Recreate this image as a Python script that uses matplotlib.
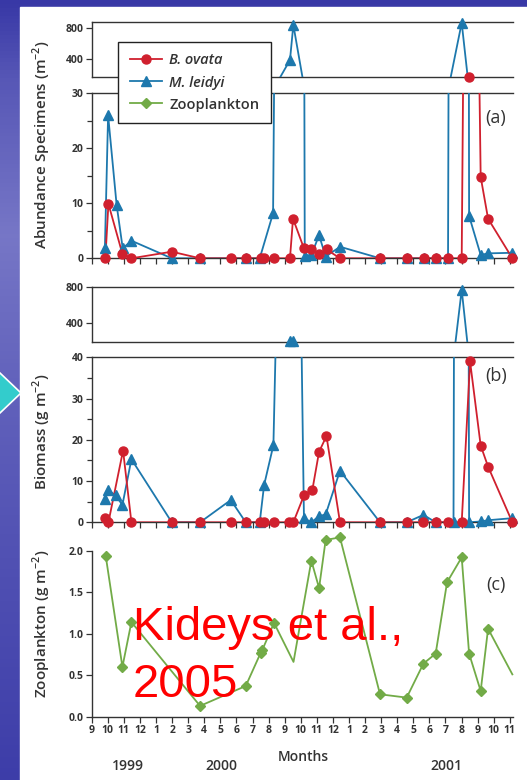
import numpy as np
import matplotlib
matplotlib.use('Agg')
import matplotlib.pyplot as plt
from matplotlib.patches import Rectangle, Polygon
from matplotlib.lines import Line2D

W, H = 527, 780

# x = months counted from Sep 1999 (0) to Nov 2001 (26)
months = ['9', '10', '11', '12', '1', '2', '3', '4', '5', '6', '7', '8',
          '9', '10', '11', '12', '1', '2', '3', '4', '5', '6', '7', '8', '9', '10', '11']
years = ['1999', '2000', '2001']

# (a) abundance, specimens m-2
ovata_abu_x = [0.85, 1.04, 1.91, 2.47, 4.98, 6.74, 8.69, 9.58, 10.51, 10.72, 11.34, 12.33, 12.52, 13.2,
               13.66, 14.14, 14.61, 15.44, 17.93, 19.59, 20.67, 21.39, 22.16, 23.01, 23.47, 24.19, 24.65, 26.16]
ovata_abu_y = [0, 9.9, 0.8, 0, 1.2, 0, 0, 0, 0, 0, 0, 0, 7.2, 1.8,
               1.6, 0.8, 1.6, 0, 0, 0, 0, 0, 0, 0, 168, 14.8, 7.2, 0]
leidyi_abu_x = [0.82, 1.02, 1.55, 1.93, 2.47, 4.98, 6.74, 9.58, 10.45, 11.28, 12.33, 12.54, 13.25, 13.66,
                14.14, 14.55, 15.44, 17.93, 19.59, 20.67, 21.39, 22.16, 23.01, 23.47, 24.19, 24.65, 26.16]
leidyi_abu_y = [1.8, 26, 9.7, 1.8, 3.2, 0, 0, 0, 0, 8.2, 390, 843, 0.5, 0.6,
                4.2, 0.3, 2.1, 0, 0, 0, 0, 0, 870, 7.7, 0.6, 0.9, 1.0]

# (b) biomass, g m-2
ovata_bio_x = [0.82, 1.04, 1.95, 2.47, 4.98, 6.74, 8.69, 9.58, 10.47, 10.72, 11.34, 12.27, 12.54, 13.2,
               13.72, 14.14, 14.6, 15.44, 17.93, 19.59, 20.63, 21.39, 22.16, 23.01, 23.53, 24.19, 24.65, 26.16]
ovata_bio_y = [1.1, 0, 17.4, 0, 0, 0, 0, 0, 0, 0, 0, 0, 0, 6.5,
               7.8, 17.1, 20.9, 0, 0, 0, 0, 0, 0, 0, 39, 18.6, 13.5, 0]
leidyi_bio_x = [0.82, 1.02, 1.49, 1.91, 2.47, 4.98, 6.74, 8.65, 9.58, 10.45, 10.72, 11.3, 12.33, 12.5,
                13.2, 13.66, 14.14, 14.55, 15.44, 17.93, 19.59, 20.63, 21.39, 22.5, 23.01, 23.47, 24.19, 24.65, 26.16]
leidyi_bio_y = [5.6, 7.8, 6.5, 4.2, 15.3, 0, 0, 5.4, 0, 0, 9.0, 18.7, 195, 195,
                1.0, 0, 1.5, 1.9, 12.5, 0, 0, 1.8, 0, 0, 765, 0, 0.2, 0.5, 1.0]

# (c) zooplankton, g m-2
zoo_x = [0.87, 1.91, 2.47, 6.74, 9.58, 10.51, 10.6, 11.34, 12.55, 13.66, 14.14, 14.55,
         15.44, 17.93, 19.59, 20.63, 21.39, 22.1, 23.01, 23.47, 24.19, 24.65, 26.16]
zoo_y = [1.94, 0.60, 1.14, 0.13, 0.37, 0.77, 0.80, 1.13, 0.66, 1.88, 1.55, 2.13,
         2.16, 0.27, 0.23, 0.64, 0.76, 1.62, 1.92, 0.76, 0.31, 1.06, 0.51]

RED = '#d0202e'
BLUE = '#1d78ad'
GREEN = '#72ab47'
DARK = '#333333'

plt.rcParams['font.family'] = ['Open Sans', 'DejaVu Sans']

fig = plt.figure(figsize=(W / 100, H / 100), dpi=100)

# slide background
bg = fig.add_axes([0, 0, 1, 1], zorder=-10)
bg.axis('off')
grad = np.interp(np.linspace(0, 1, 200), [0, 0.1, 0.3, 0.5, 0.7, 1.0], [0.0, 0.3, 0.6, 0.4, 0.25, 0.05])
c1 = np.array([0x38, 0x38, 0xa6]) / 255
c2 = np.array([0xa0, 0xa0, 0xdc]) / 255
img = (c1[None, :] + grad[:, None] * (c2 - c1)[None, :])[:, None, :]
bg.imshow(img, extent=(0, 1, 0, 1), aspect='auto')
bg.add_patch(Rectangle((20 / W, 0), 1 - 20 / W, 1 - 7 / H, color='white'))
bg.add_patch(Polygon([(-0.01, 1 - 368 / H), (21 / W, 1 - 393 / H), (-0.01, 1 - 418 / H)],
                     closed=True, facecolor='#33cccc', edgecolor='white', lw=1.2))
bg.set_xlim(0, 1)
bg.set_ylim(0, 1)


def rect(y0, y1, x0=91.7, x1=513):
    return [x0 / W, 1 - y1 / H, (x1 - x0) / W, (y1 - y0) / H]


def setup(ax, lo, hi, ticks, minor=None, top=True, xticks=True):
    ax.set_xlim(0, 26.2)
    ax.set_ylim(lo, hi)
    ax.patch.set_alpha(0)
    ax.spines['right'].set_visible(False)
    ax.spines['top'].set_visible(top)
    for s in ax.spines.values():
        s.set_color(DARK)
        s.set_linewidth(1.0)
    ax.set_yticks(ticks)
    if minor is not None:
        ax.set_yticks(minor, minor=True)
    if xticks:
        ax.set_xticks(range(27))
    else:
        ax.set_xticks([])
    ax.tick_params(which='both', direction='out', color=DARK, width=0.9, length=4,
                   labelsize=7.5, labelcolor=DARK, pad=2)
    ax.tick_params(which='minor', length=3.5)
    for t in ax.get_yticklabels():
        t.set_fontweight('bold')


def series(ax, x, y, lo, hi, color, marker, ms):
    x = np.asarray(x, float)
    y = np.asarray(y, float)
    ax.plot(x, y, color=color, lw=1.3, zorder=3)
    ym = np.where((y >= lo) & (y <= hi), y, np.nan)
    ax.plot(x, ym, ls='none', marker=marker, ms=ms, color=color, clip_on=False, zorder=4)


# panel (a)
a_top = fig.add_axes(rect(22.3, 77.3))
a_low = fig.add_axes(rect(93.3, 258.3))
for ax, lo, hi in [(a_top, 168, 877), (a_low, 0, 30)]:
    series(ax, leidyi_abu_x, leidyi_abu_y, lo, hi, BLUE, '^', 6.5)
    series(ax, ovata_abu_x, ovata_abu_y, lo, hi, RED, 'o', 6.5)
setup(a_top, 168, 877, [400, 800], xticks=False)
setup(a_low, 0, 30, [0, 10, 20, 30], [5, 15, 25])
a_low.tick_params(axis='x', labelbottom=False)

# panel (b)
b_top = fig.add_axes(rect(286.7, 341.7))
b_low = fig.add_axes(rect(357.3, 522.3))
for ax, lo, hi in [(b_top, 189, 800), (b_low, 0, 40)]:
    series(ax, leidyi_bio_x, leidyi_bio_y, lo, hi, BLUE, '^', 6.5)
    series(ax, ovata_bio_x, ovata_bio_y, lo, hi, RED, 'o', 6.5)
setup(b_top, 189, 800, [400, 800], xticks=False)
setup(b_low, 0, 40, [0, 10, 20, 30, 40], [5, 15, 25, 35])
b_low.tick_params(axis='x', labelbottom=False)

# panel (c)
c_ax = fig.add_axes(rect(550.7, 716.7))
no_mark = [8, len(zoo_x) - 1]
c_ax.plot(zoo_x, zoo_y, color=GREEN, lw=1.3, marker='D', ms=5.5,
          markevery=[i for i in range(len(zoo_x)) if i not in no_mark], clip_on=False, zorder=3)
setup(c_ax, 0, 2.0, [0, 0.5, 1.0, 1.5, 2.0], top=False)
c_ax.set_yticklabels(['0.0', '0.5', '1.0', '1.5', '2.0'], fontweight='bold')
c_ax.set_xticklabels(months, fontweight='bold')

# labels
lab = dict(rotation=90, ha='center', va='center', fontsize=11, fontweight='semibold', color=DARK)
fig.text(42 / W, 1 - 145 / H, r'Abundance Specimens (m$^{\mathregular{-2}}$)', **lab)
fig.text(42 / W, 1 - 432 / H, r'Biomass (g m$^{\mathregular{-2}}$)', **lab)
fig.text(42 / W, 1 - 624 / H, r'Zooplankton (g m$^{\mathregular{-2}}$)', **lab)

for txt, y in [('(a)', 118), ('(b)', 376), ('(c)', 585)]:
    fig.text(496 / W, 1 - y / H, txt, ha='center', va='center', fontsize=13, color=DARK)

fig.text(303 / W, 1 - 757 / H, 'Months', ha='center', va='center', fontsize=10,
         fontweight='semibold', color=DARK)
for txt, x in zip(years, [128, 221, 446]):
    fig.text(x / W, 1 - 766 / H, txt, ha='center', va='center', fontsize=10,
             fontweight='semibold', color=DARK)

handles = [Line2D([], [], color=RED, marker='o', ms=6.5, lw=1.3),
           Line2D([], [], color=BLUE, marker='^', ms=6.5, lw=1.3),
           Line2D([], [], color=GREEN, marker='D', ms=5.5, lw=1.3)]
leg = fig.legend(handles, ['B. ovata', 'M. leidyi', 'Zooplankton'], loc='center',
                 bbox_to_anchor=(194.5 / W, 1 - 82.5 / H), fancybox=False, framealpha=1,
                 edgecolor='#222222', fontsize=10.5, handlelength=2.2, labelspacing=0.55,
                 borderpad=0.8, handletextpad=0.5)
leg.get_frame().set_linewidth(1.0)
for t in leg.get_texts():
    t.set_color(DARK)
    t.set_fontweight('semibold')
for t in leg.get_texts()[:2]:
    t.set_style('italic')

fig.text(133 / W, 1 - 640 / H, 'Kideys et al.,', fontsize=34, color='red',
         family='Liberation Sans', va='baseline')
fig.text(133 / W, 1 - 697 / H, '2005', fontsize=34, color='red',
         family='Liberation Sans', va='baseline')

fig.savefig('out.png', dpi=100)
